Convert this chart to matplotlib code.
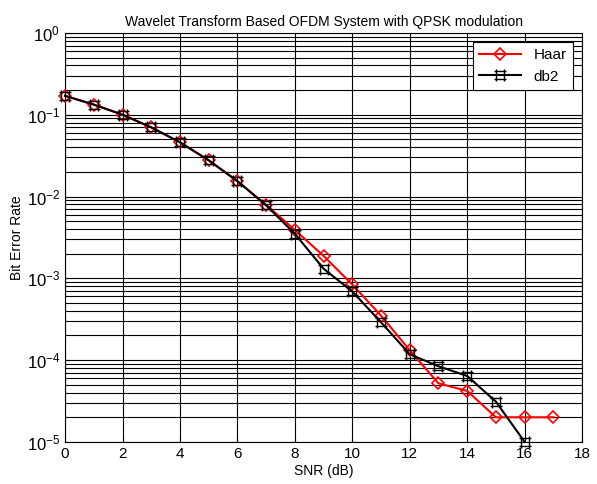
import numpy as np
import matplotlib
matplotlib.use("Agg")
import matplotlib.pyplot as plt
from matplotlib.path import Path
from matplotlib.ticker import LogLocator, NullFormatter

plt.rcParams['font.family'] = ['Liberation Sans', 'DejaVu Sans']
plt.rcParams['mathtext.fontset'] = 'custom'
plt.rcParams['mathtext.rm'] = 'Liberation Sans'
plt.rcParams['mathtext.it'] = 'Liberation Sans'

# datos
snr_haar = [0, 1, 2, 3, 4, 5, 6, 7, 8, 9, 10, 11, 12, 13, 14, 15, 16, 17]
ber_haar = [0.17, 0.133, 0.10, 0.070, 0.046, 0.0277, 0.0154, 0.0079, 0.0039, 0.00188,
            0.00084, 0.00035, 0.000132, 5.2e-5, 4.2e-5, 2.0e-5, 2.0e-5, 2.0e-5]
snr_db2 = [0, 1, 2, 3, 4, 5, 6, 7, 8, 9, 10, 11, 12, 13, 14, 15, 16]
ber_db2 = [0.17, 0.133, 0.10, 0.070, 0.046, 0.0277, 0.0154, 0.0078, 0.0035, 0.00131,
           0.00069, 0.00029, 0.000118, 8.4e-5, 6.4e-5, 3.1e-5, 1.0e-5]

# marcador tipo "#" (cuadrado con lineas que sobresalen)
hash_verts = [(-0.6, -1), (-0.6, 1), (0.6, -1), (0.6, 1),
              (-1, -0.6), (1, -0.6), (-1, 0.6), (1, 0.6)]
hash_codes = [Path.MOVETO, Path.LINETO] * 4
marcador_hash = Path(hash_verts, hash_codes)

fig = plt.figure(figsize=(5.97, 4.84), dpi=100)
ax = fig.add_axes([0.109, 0.087, 0.866, 0.845])

ax.plot(snr_haar, ber_haar, color="red", lw=1.5, marker="D", ms=6,
        mfc="none", mec="red", mew=1.2, label="Haar", clip_on=False, zorder=3)
ax.plot(snr_db2, ber_db2, color="black", lw=1.5, marker=marcador_hash, ms=9,
        mfc="none", mec="black", mew=1.0, label="db2", clip_on=False, zorder=4)

ax.set_yscale("log")
ax.set_xlim(0, 18)
ax.set_ylim(1e-5, 1)
ax.set_xticks(range(0, 19, 2))
ax.yaxis.set_major_locator(LogLocator(base=10, numticks=10))
ax.yaxis.set_minor_locator(LogLocator(base=10, subs=np.arange(2, 10), numticks=20))
ax.yaxis.set_minor_formatter(NullFormatter())

ax.grid(True, which="major", color="black", lw=0.8)
ax.grid(True, which="minor", axis="y", color="black", lw=0.8)
ax.tick_params(which="both", direction="in", labelsize=11)
ax.tick_params(axis="y", labelsize=12)

ax.set_xlabel("SNR (dB)", fontsize=10, labelpad=2)
ax.set_ylabel("Bit Error Rate", fontsize=10, labelpad=2)
ax.set_title("Wavelet Transform Based OFDM System with QPSK modulation", fontsize=10, pad=5)

leg = ax.legend(loc="upper right", fontsize=11, fancybox=False, framealpha=1,
                edgecolor="black", handlelength=2.8, borderaxespad=0.6)
leg.get_frame().set_linewidth(0.8)

fig.savefig("out.png", dpi=100)
